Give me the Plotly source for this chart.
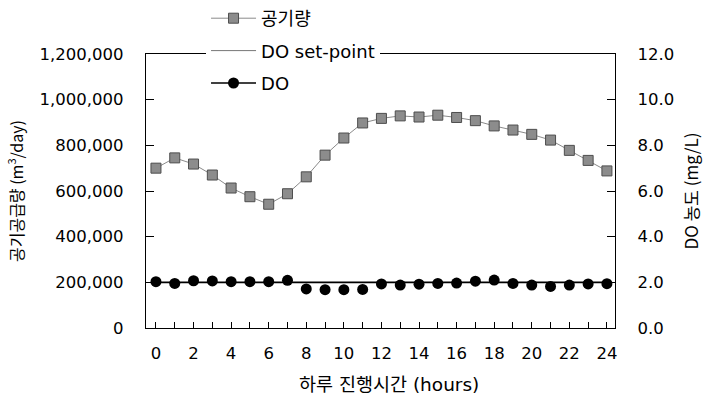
import plotly.graph_objects as go

hours = list(range(0, 25))
air_flow = [700000, 745000, 718000, 670000, 613000, 575000, 542000, 588000, 662000,
            757000, 832000, 898000, 918000, 929000, 924000, 932000, 922000, 908000,
            885000, 867000, 848000, 823000, 778000, 734000, 688000]
do_conc = [2.03, 1.95, 2.07, 2.06, 2.03, 2.03, 2.03, 2.09, 1.71, 1.68, 1.68, 1.69,
           1.93, 1.88, 1.92, 1.95, 1.97, 2.05, 2.10, 1.95, 1.88, 1.82, 1.88, 1.93, 1.94]
setpoint_x = [0, 24]
setpoint_y = [2.0, 2.0]

left_ticks = [0, 200000, 400000, 600000, 800000, 1000000, 1200000]
left_labels = ["0", "200,000", "400,000", "600,000", "800,000", "1,000,000", "1,200,000"]
right_ticks = [0, 2, 4, 6, 8, 10, 12]
right_labels = ["0.0", "2.0", "4.0", "6.0", "8.0", "10.0", "12.0"]

TICKFONT = dict(family="DejaVu Sans", size=16.5, color="black")
KFONT = "Noto Sans CJK KR"
MIXFONT = "DejaVu Sans, " + KFONT

fig = go.Figure()

# plotted traces
fig.add_trace(go.Scatter(
    x=hours, y=air_flow, mode="lines+markers", name="공기량",
    line=dict(color="#8a8a8a", width=1),
    marker=dict(symbol="square", size=10, color="#8c8c8c",
                line=dict(color="#4d4d4d", width=1)),
    legendgroup="a", yaxis="y"))
fig.add_trace(go.Scatter(
    x=setpoint_x, y=setpoint_y, mode="lines", name="DO set-point",
    line=dict(color="black", width=1.6), showlegend=False,
    legendgroup="b", yaxis="y2"))
fig.add_trace(go.Scatter(
    x=hours, y=do_conc, mode="markers", name="DO",
    marker=dict(symbol="circle", size=11, color="black"),
    showlegend=False, legendgroup="c", yaxis="y2"))

# legend entries
fig.add_trace(go.Scatter(
    x=[None], y=[None], mode="lines", name="DO set-point",
    line=dict(color="#777777", width=1), legendgroup="b", yaxis="y2"))
fig.add_trace(go.Scatter(
    x=[None], y=[None], mode="lines+markers", name="DO",
    line=dict(color="black", width=1.6),
    marker=dict(symbol="circle", size=11, color="black"),
    legendgroup="c", yaxis="y2"))

fig.update_layout(
    width=703, height=403,
    margin=dict(l=146, r=88, t=54, b=75, autoexpand=False),
    paper_bgcolor="white", plot_bgcolor="white",
    showlegend=True,
    legend=dict(x=0.128, xanchor="left", xref="paper",
                y=1.0, yanchor="top", yref="container",
                bgcolor="white", borderwidth=0,
                font=dict(family=MIXFONT, size=18, color="black"),
                itemwidth=45, tracegroupgap=6, traceorder="grouped"),
    xaxis=dict(range=[-0.53, 24.43], tickmode="linear", tick0=0, dtick=2,
               ticks="inside", ticklen=6, tickcolor="black", tickwidth=1,
               minor=dict(dtick=1, ticks="inside", ticklen=6, tickcolor="black"),
               showline=True, linecolor="black", linewidth=1.2, mirror=True,
               showgrid=False, zeroline=False, tickfont=TICKFONT,
               ticklabelstandoff=10),
    yaxis=dict(range=[0, 1200000], tickvals=left_ticks, ticktext=left_labels,
               ticks="inside", ticklen=8, tickcolor="black",
               showline=True, linecolor="black", linewidth=1.2,
               showgrid=False, zeroline=False, tickfont=TICKFONT,
               ticklabelstandoff=18,
               title=dict(text="공기공급량 (m<sup>3</sup>/day)",
                          font=dict(family=KFONT, size=16, color="black"),
                          standoff=12)),
    yaxis2=dict(range=[0, 12], tickvals=right_ticks, ticktext=right_labels,
                overlaying="y", side="right",
                ticks="inside", ticklen=8, tickcolor="black",
                showline=True, linecolor="black", linewidth=1.2,
                showgrid=False, zeroline=False, tickfont=TICKFONT,
                ticklabelstandoff=18,
                title=dict(text="DO 농도 (mg/L)",
                           font=dict(family=KFONT, size=17, color="black"),
                           standoff=12)),
    annotations=[dict(text="하루 진행시간 (hours)", xref="paper", yref="paper",
                      x=0.322, y=-0.208, xanchor="left", yanchor="middle",
                      showarrow=False,
                      font=dict(family=MIXFONT, size=18.5, color="black"))],
)

fig.write_html("out.html",
               config={"displayModeBar": False},
               post_script="document.body.style.margin='0';document.body.style.padding='0';")
